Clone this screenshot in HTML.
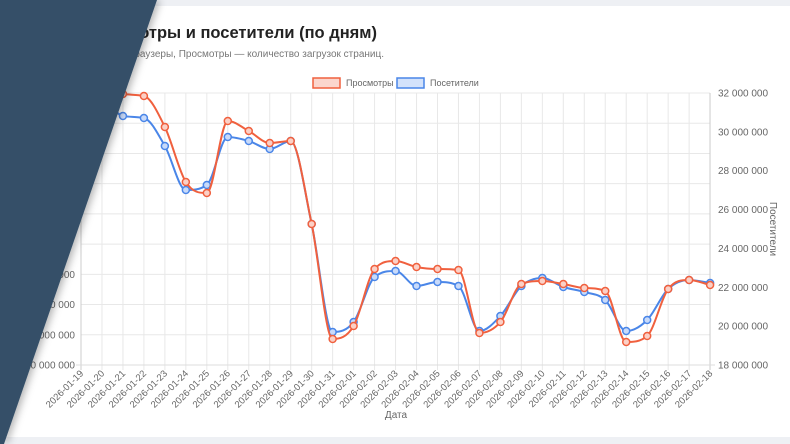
<!DOCTYPE html>
<html><head><meta charset="utf-8">
<style>
body{margin:0;width:790px;height:444px;overflow:hidden;background:#eef0f4;font-family:"Liberation Sans",sans-serif;}
#card{position:absolute;left:0;top:6px;width:790px;height:431px;background:#fff;}
svg{position:absolute;left:0;top:0;}
</style></head><body>
<div id="card"></div>
<svg id="s" width="790" height="444" xmlns="http://www.w3.org/2000/svg"></svg>
<script>
const S=document.getElementById('s');let h='';
const x0=81,dx=20.97;
for(let i=0;i<10;i++){const y=365-i*30.22;h+=`<line x1="81" x2="710" y1="${y}" y2="${y}" stroke="#e8e8e8"/>`;}
for(let i=0;i<31;i++){const x=x0+i*dx;h+=`<line x1="${x}" x2="${x}" y1="93" y2="370" stroke="#e8e8e8"/>`;}
h+=`<line x1="81" x2="81" y1="93" y2="370" stroke="#ccc"/><line x1="710" x2="710" y1="93" y2="370" stroke="#ccc"/><line x1="76" x2="715" y1="365" y2="365" stroke="#ddd"/>`;
const rl=['18 000 000','20 000 000','22 000 000','24 000 000','26 000 000','28 000 000','30 000 000','32 000 000'];
for(let i=0;i<8;i++){const y=365-i*38.86;h+=`<text x="718" y="${y+3.5}" font-size="10" fill="#666">${rl[i]}</text>`;}
h+=`<text transform="translate(770,229) rotate(90)" font-size="10" fill="#666" text-anchor="middle">Посетители</text>`;
const ll=['190 000 000','200 000 000','210 000 000','220 000 000'];
for(let i=0;i<4;i++){const y=365-i*30.22;h+=`<text x="75" y="${y+3.5}" font-size="10" fill="#666" text-anchor="end">${ll[i]}</text>`;}
for(let i=0;i<31;i++){const d=new Date(Date.UTC(2026,0,19+i));const t=d.toISOString().slice(0,10);const x=x0+i*dx;
h+=`<text transform="translate(${x+3},374) rotate(-45)" font-size="9.5" fill="#666" text-anchor="end">${t}</text>`;}
h+=`<text x="396" y="418" font-size="10" fill="#666" text-anchor="middle">Дата</text>`;
const R=[60,75,94,96,127,182,193,121,131,143,141,224,339,326,269,261,267,269,270,333,322,284,281,284,288,291,342,336,289,280,285];
const B=[80,95,116,118,146,190,185,137,141,149,141,224,332,322,277,271,286,282,286,331,316,286,278,287,292,300,331,320,289,280,283];
function path(a){const n=a.length;const del=[];for(let i=0;i<n-1;i++)del.push((a[i+1]-a[i])/dx);
const m=[];m[0]=del[0];m[n-1]=del[n-2];
for(let i=1;i<n-1;i++){m[i]=(del[i-1]*del[i]<=0)?0:(del[i-1]+del[i])/2;}
for(let i=0;i<n-1;i++){if(del[i]===0){m[i]=0;m[i+1]=0;continue;}const al=m[i]/del[i],be=m[i+1]/del[i];const s=al*al+be*be;if(s>9){const t=3/Math.sqrt(s);m[i]=t*al*del[i];m[i+1]=t*be*del[i];}}
let d=`M${x0},${a[0]}`;
for(let i=0;i<n-1;i++){const xa=x0+i*dx,xb=xa+dx;d+=` C${xa+dx/3},${a[i]+m[i]*dx/3} ${xb-dx/3},${a[i+1]-m[i+1]*dx/3} ${xb},${a[i+1]}`;}return d;}
function ser(a,c,f){let s=`<path d="${path(a)}" fill="none" stroke="${c}" stroke-width="2"/>`;
a.forEach((y,i)=>{s+=`<circle cx="${x0+i*dx}" cy="${y}" r="3.5" fill="${f}" stroke="${c}" stroke-width="1.5"/>`;});return s;}
h+=ser(B,'#4a86e8','#c8dafa');h+=ser(R,'#f0603e','#fbd0c6');
h+=`<rect x="313" y="78" width="27" height="10" fill="#fbd6cd" stroke="#f0603e" stroke-width="1.5"/><text x="346" y="86" font-size="9" fill="#666">Просмотры</text>`;
h+=`<rect x="397" y="78" width="27" height="10" fill="#d3e2fb" stroke="#4a86e8" stroke-width="1.5"/><text x="430" y="86" font-size="9" fill="#666">Посетители</text>`;
h+=`<text x="377" y="38" font-size="16.5" font-weight="bold" fill="#222" text-anchor="end">Просмотры и посетители (по дням)</text>`;
h+=`<text x="384" y="57" font-size="10" fill="#777" text-anchor="end">Посетители — браузеры, Просмотры — количество загрузок страниц.</text>`;
h+=`<defs><filter id="sh" x="-20%" y="-20%" width="150%" height="150%"><feDropShadow dx="3" dy="0" stdDeviation="4" flood-color="#000" flood-opacity="0.3"/></filter></defs>`;
h+=`<polygon points="0,0 157,0 4,444 0,444" fill="#344f68" filter="url(#sh)"/>`;
S.innerHTML=h;
</script>
</body></html>
